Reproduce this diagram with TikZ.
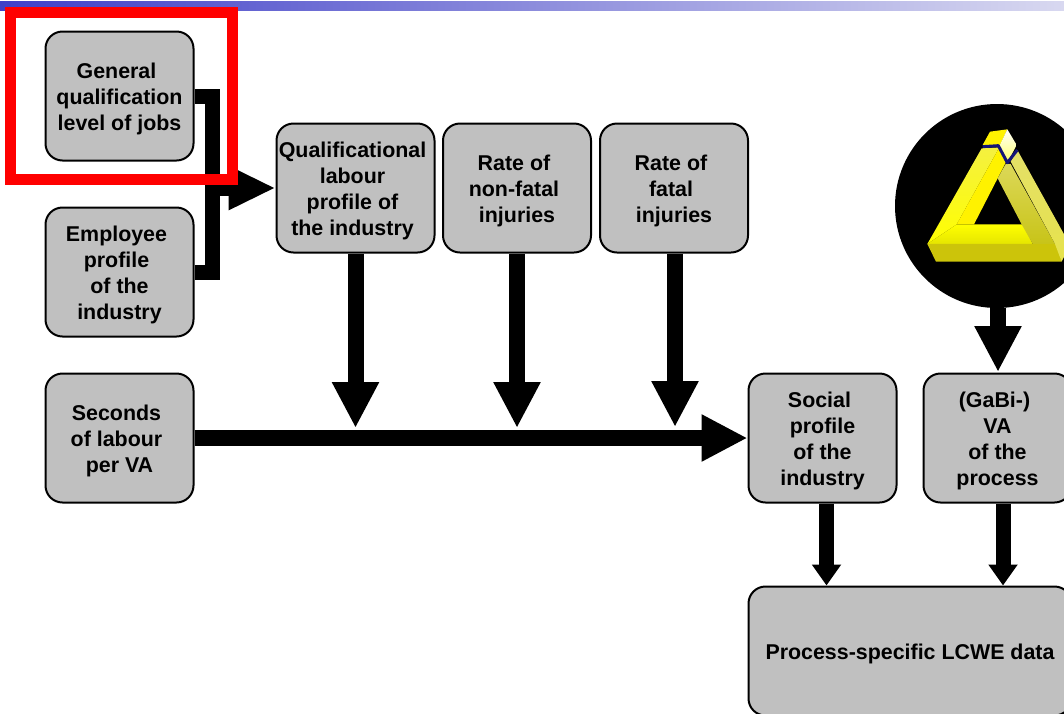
\documentclass[tikz,border=0pt]{standalone}
\usepackage{fontspec}
\setmainfont{Liberation Sans}
\usetikzlibrary{arrows.meta}
\definecolor{boxgray}{HTML}{C0C0C0}
\definecolor{barleft}{RGB}{64,64,200}
\definecolor{barright}{RGB}{216,216,240}
\definecolor{logofront}{HTML}{CCC40A}
\definecolor{logoinnertop}{HTML}{DCD858}
\definecolor{logoinnerbot}{HTML}{C8C418}
\definecolor{logopaletop}{HTML}{E4E068}
\definecolor{logopalebot}{HTML}{E6E24C}
\definecolor{logolefttop}{HTML}{F4F040}
\definecolor{logoblue}{HTML}{141478}
\newcommand{\tailsp}{\kern6pt}
\newcommand{\headsp}{\rule{0pt}{22pt}}
\tikzset{
    databox/.style={draw, line width=2pt, rounded corners=17pt, fill=boxgray, minimum width=148pt, minimum height=129pt, inner sep=0pt, align=center, font=\fontsize{21.4}{26}\selectfont\bfseries},
    bigflow/.style={line width=16pt, -{Triangle[width=44pt,length=46pt]}},
    smallflow/.style={line width=15pt, -{Triangle[width=28pt,length=21pt]}},
    joinbar/.style={line width=15pt}
}
\begin{document}
\begin{tikzpicture}[x=1pt, y=-1pt]
    \useasboundingbox (0,0) rectangle (1064,713);
    \clip (0,0) rectangle (1064,713);

    % Title bar
    \shade[left color=barleft, right color=barright] (0,1) rectangle (1064,10);

    % Input boxes
    \node[databox] (gen) at (119.5,96) {\headsp General\tailsp\\qualification\\level of jobs};
    \node[databox] (emp) at (119.5,272) {\headsp Employee\tailsp\\profile\tailsp\\of the\\industry};
    \node[databox] (sec) at (119.5,438) {\headsp Seconds\tailsp\\of labour\tailsp\\per VA};
    \node[databox, minimum width=158pt] (qual) at (355.5,188) {\headsp Qualificational\tailsp\\labour\tailsp\\profile of\tailsp\\the industry\tailsp};
    \node[databox] (nonfatal) at (517,188) {\headsp Rate of\tailsp\\non-fatal\tailsp\\injuries};
    \node[databox] (fatal) at (674,188) {\headsp Rate of\tailsp\\fatal\tailsp\\injuries};

    % Result boxes
    \node[databox] (social) at (822.5,438) {\headsp Social\tailsp\\profile\\of the\\industry};
    \node[databox] (va) at (997.5,438) {\headsp (GaBi-)\tailsp\\VA\\of the\\process};
    \node[databox, minimum width=323pt] (lcwe) at (910,651) {\headsp Process-specific LCWE data};

    % Logo
    \node[circle, fill=black, minimum size=204pt, inner sep=0pt] (logo) at (997,206) {};
    \begin{scope}[shift={(890,90)}, x=0.3333pt, y=-0.3333pt]
        \shade[top color=logolefttop, bottom color=yellow] (275,175) -- (328,172) -- (200,403) -- (112,462) -- cycle;
        \fill[yellow] (328,172) -- (347,218) -- (252,403) -- (200,403) -- cycle;
        \shade[top color=yellow, bottom color=yellow!90!black] (112,462) -- (200,403) -- (400,403) -- (428,462) -- cycle;
        \fill[logofront] (112,462) -- (500,462) -- (515,515) -- (138,515) -- cycle;
        \shade[top color=logoinnertop, bottom color=logoinnerbot] (347,222) -- (362,222) -- (495,462) -- (428,462) -- (395,403) -- (323,265) -- cycle;
        \shade[top color=logopaletop, bottom color=logopalebot] (362,215) -- (382,180) -- (540,465) -- (515,515) -- (495,462) -- cycle;
        \fill[yellow] (300,125) -- (352,118) -- (330,165) -- (278,165) -- cycle;
        \shade[top color=white, bottom color=yellow!60!white] (352,118) -- (380,165) -- (352,218) -- (328,168) -- cycle;
        \draw[line width=3pt, color=logoblue, line join=round] (278,170) -- (325,167) -- (352,218) -- (382,180);
    \end{scope}

    % Flow into qualification profile
    \coordinate (merge) at (212,188);
    \draw[joinbar] (gen.east) -| (merge);
    \draw[joinbar] (emp.east) -| (merge);
    \draw[line width=16pt, -{Triangle[width=41pt,length=47pt]}] (merge) -- (qual.west);

    % Flows down to seconds of labour line
    \coordinate (hitqual) at (355.5,428);
    \coordinate (hitnonfatal) at (517,428);
    \coordinate (hitfatal) at (675,427);
    \draw[bigflow] (qual.south) -- (hitqual);
    \draw[bigflow] (nonfatal.south) -- (hitnonfatal);
    \draw[bigflow] (fatal.south -| hitfatal) -- (hitfatal);
    \draw[bigflow] (sec.east) -- (social.west);

    % Flows to result boxes
    \coordinate (hitva) at (998,372);
    \draw[bigflow] (logo.south -| hitva) -- (hitva);
    \draw[smallflow] (social.south -| 826.5,0) -- (lcwe.north -| 826.5,0);
    \draw[smallflow] (va.south -| 1003,0) -- (lcwe.north -| 1003,0);

    % Highlight frame
    \node[draw=red, line width=11pt, minimum width=221.5pt, minimum height=167pt, inner sep=0pt, outer sep=0pt] (frame) at (121.25,96) {};
\end{tikzpicture}
\end{document}
